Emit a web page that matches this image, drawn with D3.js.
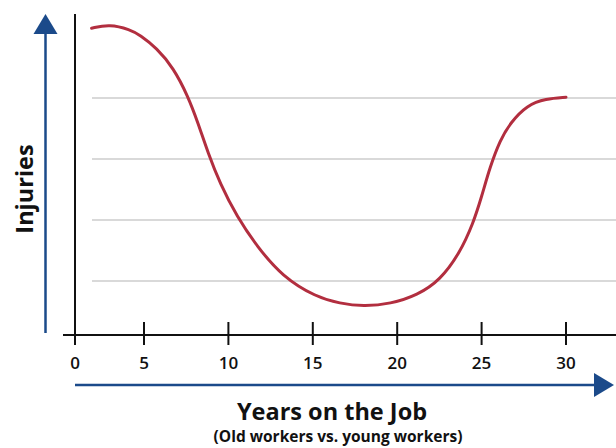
<!DOCTYPE html>
<html><head><meta charset="utf-8">
<script src="https://cdn.jsdelivr.net/npm/d3@7"></script>
<style>body{margin:0;background:#fff}svg{display:block}text{font-family:"Open Sans",sans-serif}</style>
</head><body><svg id="c" width="616" height="448"></svg>
<script>
// Data
const years = [1.2, 2.5, 4.0, 4.7, 5.75, 6.75, 7.6, 8.2, 8.8, 9.5, 10.5, 11.7, 13.2, 15.2, 16.6, 18.0, 19.6, 21.2, 22.55, 23.7, 24.5, 25.0, 25.5, 26.1, 26.7, 27.7, 28.8, 30.0];
const injuries = [128.6, 130.2, 128.0, 125.8, 120.5, 112.3, 100.8, 89.8, 77.3, 65.0, 51.4, 39.1, 26.8, 18.4, 15.8, 14.6, 15.6, 19.2, 25.4, 36.4, 48.6, 59.5, 71.8, 82.8, 89.8, 97.1, 99.7, 100.3];
const xTicks = [0, 5, 10, 15, 20, 25, 30];
const gridValues = [25, 50, 75, 100];
const xTitle = "Years on the Job";
const xSubtitle = "(Old workers vs. young workers)";
const yTitle = "Injuries";

const svg = d3.select("#c");
const red = "#b22e3f", blue = "#1b4a8a";

const x = d3.scaleLinear().domain([0, 5, 30]).range([75, 144, 566]);
const y = d3.scaleLinear().domain([0, 100]).range([342, 98]);

// gridlines
svg.append("g").selectAll("line").data(gridValues).join("line")
  .attr("x1", 92).attr("x2", 616)
  .attr("y1", d => y(d)).attr("y2", d => y(d))
  .attr("stroke", "#d9d9d9").attr("stroke-width", 2);

// y axis line
svg.append("line").attr("x1", 75).attr("x2", 75).attr("y1", 14).attr("y2", 345)
  .attr("stroke", "#111").attr("stroke-width", 2);

// x axis
const axisY = 335;
svg.append("line").attr("x1", 63).attr("x2", 616).attr("y1", axisY).attr("y2", axisY)
  .attr("stroke", "#111").attr("stroke-width", 2);
svg.append("g").selectAll("line").data(xTicks.filter(d => d > 0)).join("line")
  .attr("x1", d => x(d)).attr("x2", d => x(d)).attr("y1", 322).attr("y2", 345)
  .attr("stroke", "#111").attr("stroke-width", 2);
svg.append("g").selectAll("text").data(xTicks).join("text")
  .attr("x", d => x(d)).attr("y", 369).attr("text-anchor", "middle")
  .attr("font-size", 17).attr("font-weight", 600).attr("fill", "#111")
  .text(d => d);

// curve
const pts = years.map((v, i) => [v, injuries[i]]);
svg.append("path").datum(pts)
  .attr("d", d3.line().x(d => x(d[0])).y(d => y(d[1])).curve(d3.curveBasis))
  .attr("fill", "none").attr("stroke", red).attr("stroke-width", 3).attr("stroke-linecap", "round");

// blue arrows
svg.append("line").attr("x1", 45.5).attr("x2", 45.5).attr("y1", 32).attr("y2", 333)
  .attr("stroke", blue).attr("stroke-width", 2.5);
svg.append("path").attr("d", "M45.5,14 L57.5,34 L33.5,34 Z").attr("fill", blue);
svg.append("line").attr("x1", 75).attr("x2", 596).attr("y1", 385).attr("y2", 385)
  .attr("stroke", blue).attr("stroke-width", 2.5);
svg.append("path").attr("d", "M614,385 L594,373 L594,397 Z").attr("fill", blue);

// titles
svg.append("text").attr("x", 332).attr("y", 420).attr("text-anchor", "middle")
  .attr("font-size", 23.5).attr("font-weight", 700).attr("fill", "#111").text(xTitle);
svg.append("text").attr("x", 338).attr("y", 442).attr("text-anchor", "middle")
  .attr("font-size", 15.5).attr("font-weight", 700).attr("fill", "#111").text(xSubtitle);
svg.append("text").attr("transform", "translate(33,189) rotate(-90)").attr("text-anchor", "middle")
  .attr("font-size", 23.5).attr("font-weight", 700).attr("fill", "#111").text(yTitle);
</script></body></html>
